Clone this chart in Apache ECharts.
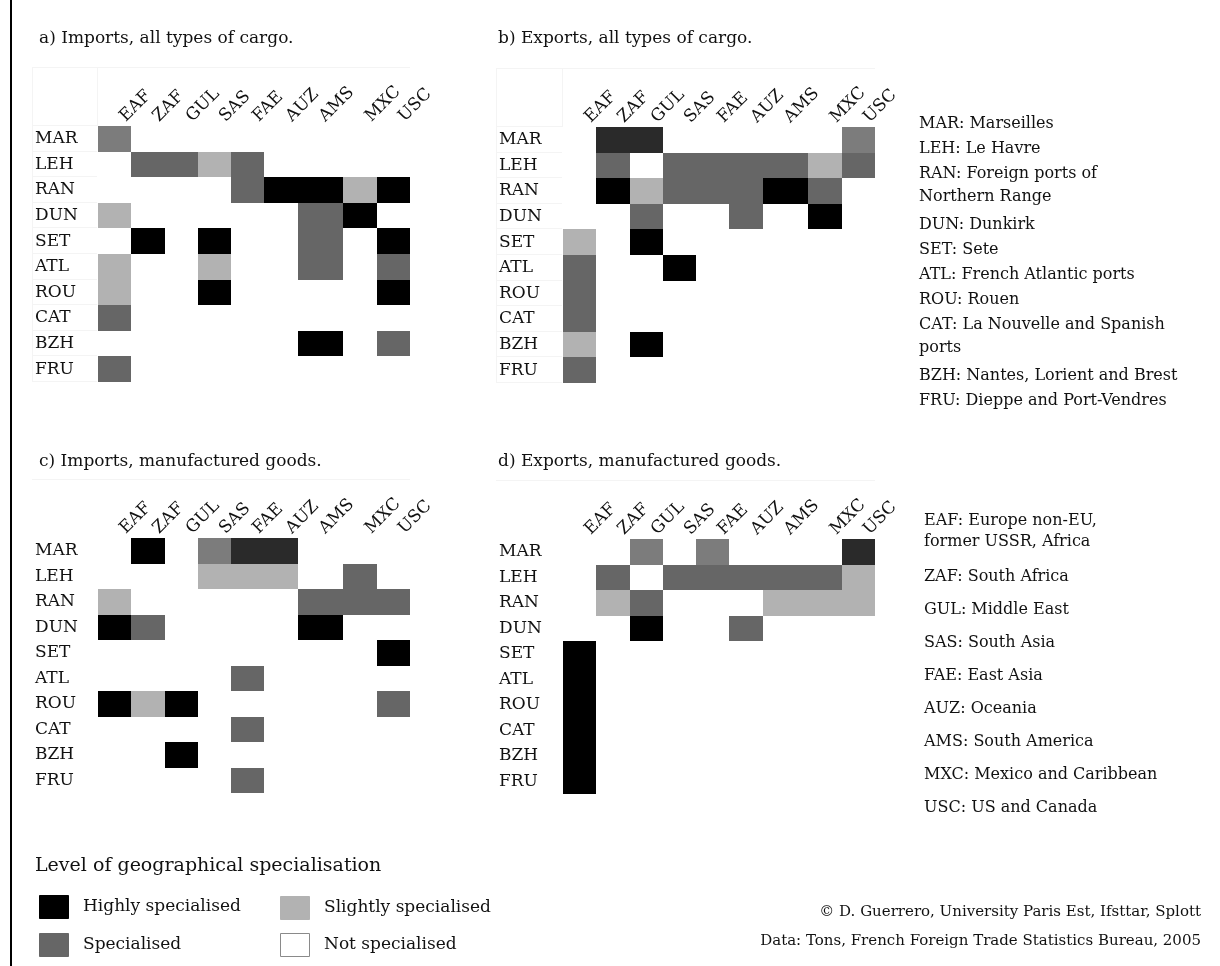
<!DOCTYPE html>
<html>
<head>
<meta charset="utf-8">
<script src="https://cdn.jsdelivr.net/npm/echarts@6/dist/echarts.min.js"></script>
<style>
html, body { margin: 0; padding: 0; background: #ffffff; }
#chart { width: 1220px; height: 966px; }
</style>
</head>
<body>
<div id="chart"></div>
<script>
// ---------------- data ----------------
const regions = ['EAF', 'ZAF', 'GUL', 'SAS', 'FAE', 'AUZ', 'AMS', 'MXC', 'USC'];
const ports = ['MAR', 'LEH', 'RAN', 'DUN', 'SET', 'ATL', 'ROU', 'CAT', 'BZH', 'FRU'];

// level codes: 0 not specialised, 1 slightly, 2 specialised, 3 highly,
// 4 specialised (lighter print), 5 highly (lighter print)
const importsAll = [
  [4, 0, 0, 0, 0, 0, 0, 0, 0],
  [0, 2, 2, 1, 2, 0, 0, 0, 0],
  [0, 0, 0, 0, 2, 3, 3, 1, 3],
  [1, 0, 0, 0, 0, 0, 2, 3, 0],
  [0, 3, 0, 3, 0, 0, 2, 0, 3],
  [1, 0, 0, 1, 0, 0, 2, 0, 2],
  [1, 0, 0, 3, 0, 0, 0, 0, 3],
  [2, 0, 0, 0, 0, 0, 0, 0, 0],
  [0, 0, 0, 0, 0, 0, 3, 0, 2],
  [2, 0, 0, 0, 0, 0, 0, 0, 0]
];
const exportsAll = [
  [0, 5, 5, 0, 0, 0, 0, 0, 4],
  [0, 2, 0, 2, 2, 2, 2, 1, 2],
  [0, 3, 1, 2, 2, 2, 3, 2, 0],
  [0, 0, 2, 0, 0, 2, 0, 3, 0],
  [1, 0, 3, 0, 0, 0, 0, 0, 0],
  [2, 0, 0, 3, 0, 0, 0, 0, 0],
  [2, 0, 0, 0, 0, 0, 0, 0, 0],
  [2, 0, 0, 0, 0, 0, 0, 0, 0],
  [1, 0, 3, 0, 0, 0, 0, 0, 0],
  [2, 0, 0, 0, 0, 0, 0, 0, 0]
];
const importsManuf = [
  [0, 3, 0, 4, 5, 5, 0, 0, 0],
  [0, 0, 0, 1, 1, 1, 0, 2, 0],
  [1, 0, 0, 0, 0, 0, 2, 2, 2],
  [3, 2, 0, 0, 0, 0, 3, 0, 0],
  [0, 0, 0, 0, 0, 0, 0, 0, 3],
  [0, 0, 0, 0, 2, 0, 0, 0, 0],
  [3, 1, 3, 0, 0, 0, 0, 0, 2],
  [0, 0, 0, 0, 2, 0, 0, 0, 0],
  [0, 0, 3, 0, 0, 0, 0, 0, 0],
  [0, 0, 0, 0, 2, 0, 0, 0, 0]
];
const exportsManuf = [
  [0, 0, 4, 0, 4, 0, 0, 0, 5],
  [0, 2, 0, 2, 2, 2, 2, 2, 1],
  [0, 1, 2, 0, 0, 0, 1, 1, 1],
  [0, 0, 3, 0, 0, 2, 0, 0, 0],
  [3, 0, 0, 0, 0, 0, 0, 0, 0],
  [3, 0, 0, 0, 0, 0, 0, 0, 0],
  [3, 0, 0, 0, 0, 0, 0, 0, 0],
  [3, 0, 0, 0, 0, 0, 0, 0, 0],
  [3, 0, 0, 0, 0, 0, 0, 0, 0],
  [3, 0, 0, 0, 0, 0, 0, 0, 0]
];

const panelTitles = [
  'a) Imports, all types of cargo.',
  'b) Exports, all types of cargo.',
  'c) Imports, manufactured goods.',
  'd) Exports, manufactured goods.'
];
const portNames = [
  'Marseilles', 'Le Havre', 'Foreign ports of\nNorthern Range', 'Dunkirk', 'Sete',
  'French Atlantic ports', 'Rouen', 'La Nouvelle and Spanish\nports',
  'Nantes, Lorient and Brest', 'Dieppe and Port-Vendres'
];
const regionNames = [
  'Europe non-EU,\nformer USSR, Africa', 'South Africa', 'Middle East', 'South Asia',
  'East Asia', 'Oceania', 'South America', 'Mexico and Caribbean', 'US and Canada'
];
const levelNames = ['Not specialised', 'Slightly specialised', 'Specialised', 'Highly specialised'];
const legendTitle = 'Level of geographical specialisation';
const creditLines = [
  '\u00A9 D. Guerrero, University Paris Est, Ifsttar, Splott',
  'Data: Tons, French Foreign Trade Statistics Bureau, 2005'
];

// ---------------- styles / layout ----------------
const FONT = '"DejaVu Serif", serif';
const TXT = '#111111';
const FAINT = '#f4f4f4';
const levelColor = { 1: '#b2b2b2', 2: '#666666', 3: '#000000', 4: '#7c7c7c', 5: '#2a2a2a' };
const colW = [1, 1, 1, 1, 1, 1, 1.38, 1, 1];
const colStart = [];
colW.reduce((acc, w, i) => { colStart[i] = acc; return acc + w; }, 0);
const totalW = colW.reduce((a, b) => a + b, 0);
const labelOffset = 0.74;
const labelPos = colStart.map(s => +(s + labelOffset).toFixed(4));

const panels = [
  { values: importsAll,   grid: { left: 98,  top: 126, width: 312, height: 256 }, labelX: 35,  title: [39, 30],  rowLines: true },
  { values: exportsAll,   grid: { left: 563, top: 127, width: 312, height: 256 }, labelX: 499, title: [498, 30], rowLines: true },
  { values: importsManuf, grid: { left: 98,  top: 538, width: 312, height: 255 }, labelX: 35,  title: [39, 453], rowLines: false },
  { values: exportsManuf, grid: { left: 563, top: 539, width: 312, height: 255 }, labelX: 499, title: [498, 453], rowLines: false }
];

function cellsOf(values) {
  const out = [];
  values.forEach((row, r) => row.forEach((lv, c) => { if (lv > 0) out.push([c, r, lv]); }));
  return out;
}

function renderCell(params, api) {
  const c = api.value(0), r = api.value(1), lv = api.value(2);
  const p0 = api.coord([colStart[c], r]);
  const p1 = api.coord([colStart[c] + colW[c], r]);
  const h = api.size([0, 1])[1];
  const x0 = Math.round(p0[0]), x1 = Math.round(p1[0]);
  const y0 = Math.round(p0[1] - h / 2), y1 = Math.round(p0[1] + h / 2);
  return {
    type: 'rect',
    shape: { x: x0, y: y0, width: x1 - x0, height: y1 - y0 },
    style: { fill: levelColor[lv] }
  };
}

const grids = [], xAxes = [], yAxes = [], series = [], titles = [];
panels.forEach((p, i) => {
  grids.push(Object.assign({ containLabel: false }, p.grid));
  xAxes.push({
    gridIndex: i, type: 'value', position: 'top', min: 0, max: totalW,
    axisLine: { show: false }, axisTick: { show: false }, splitLine: { show: false },
    axisLabel: {
      customValues: labelPos, rotate: -45, margin: 7,
      fontSize: 17, fontFamily: FONT, color: TXT,
      formatter: v => { const k = labelPos.findIndex(q => Math.abs(q - v) < 1e-3); return k >= 0 ? regions[k] : ''; }
    }
  });
  yAxes.push({
    gridIndex: i, type: 'category', data: ports, inverse: true,
    axisLine: { show: false }, axisTick: { show: false }, splitLine: { show: false },
    axisLabel: {
      align: 'left', margin: p.grid.left - p.labelX, fontSize: 17, fontFamily: FONT,
      color: TXT, padding: [7, 0, 0, 0]
    }
  });
  series.push({
    type: 'custom', xAxisIndex: i, yAxisIndex: i,
    data: cellsOf(p.values), renderItem: renderCell,
    encode: { x: 0, y: 1 }, silent: true, animation: false
  });
  titles.push({
    text: panelTitles[i], left: p.title[0], top: p.title[1], padding: 0,
    textStyle: { fontSize: 17, fontWeight: 'normal', fontFamily: FONT, color: TXT }
  });
});

// ---------------- graphic: text legends, frame ----------------
const graphics = [];
function textEl(text, x, y, size, align) {
  return {
    type: 'text', x: x, y: y, silent: true,
    style: { text: text, fontSize: size, fontFamily: FONT, fill: TXT, align: align || 'left', verticalAlign: 'middle' }
  };
}
function hLine(x1, x2, y, color) {
  return { type: 'line', silent: true, z: -1, shape: { x1: x1, y1: y + 0.5, x2: x2, y2: y + 0.5 }, style: { stroke: color, lineWidth: 1 } };
}
function vLine(x, y1, y2, color) {
  return { type: 'line', silent: true, z: -1, shape: { x1: x + 0.5, y1: y1, x2: x + 0.5, y2: y2 }, style: { stroke: color, lineWidth: 1 } };
}
function legendBlock(keys, names, x, y0, step, wrapLine, wrapGap) {
  let y = y0;
  keys.forEach((k, i) => {
    const lines = (k + ': ' + names[i]).split('\n');
    lines.forEach((ln, j) => {
      graphics.push(textEl(ln, x, y, 16));
      if (j < lines.length - 1) y += wrapLine;
    });
    y += lines.length > 1 ? wrapGap : step;
  });
}
legendBlock(ports, portNames, 919, 124, 25, 23, 28);
legendBlock(regions, regionNames, 924, 521, 33, 21, 35);

// frame line
graphics.push({ type: 'line', silent: true, shape: { x1: 11, y1: 0, x2: 11, y2: 966 }, style: { stroke: '#000', lineWidth: 2 } });

// faint spreadsheet gridlines around each table
panels.forEach(p => {
  const g = p.grid;
  const lineTop = g.top - 59;
  graphics.push(hLine(p.labelX - 3, g.left + g.width, lineTop, FAINT));
  if (p.rowLines) {
    graphics.push(vLine(g.left - 1, lineTop, g.top, FAINT));
    graphics.push(vLine(p.labelX - 3, lineTop, g.top + g.height, FAINT));
    const rh = g.height / ports.length;
    for (let k = 0; k <= ports.length; k++) {
      graphics.push(hLine(p.labelX - 3, g.left - 1, Math.round(g.top + k * rh) - 1, FAINT));
    }
  }
});

// level legend
graphics.push(textEl(legendTitle, 35, 866, 19));
const swatchPos = { 3: [39, 895], 2: [39, 933], 1: [280, 896], 0: [280, 933] };
[3, 2, 1, 0].forEach(lv => {
  const [sx, sy] = swatchPos[lv];
  graphics.push({
    type: 'rect', silent: true,
    shape: { x: sx + 0.5, y: sy + 0.5, width: 29, height: 23 },
    style: { fill: lv === 0 ? '#ffffff' : levelColor[lv], stroke: lv === 0 ? '#8a8a8a' : levelColor[lv], lineWidth: 1 }
  });
  graphics.push(textEl(levelNames[lv], sx + 44, sy + 12, 17));
});

// credits
graphics.push(textEl(creditLines[0], 1201, 912, 15, 'right'));
graphics.push(textEl(creditLines[1], 1201, 941, 15, 'right'));

const chart = echarts.init(document.getElementById('chart'), null, { renderer: 'canvas' });
chart.setOption({
  backgroundColor: '#ffffff',
  animation: false,
  textStyle: { fontFamily: FONT },
  title: titles,
  grid: grids,
  xAxis: xAxes,
  yAxis: yAxes,
  series: series,
  graphic: graphics
});
</script>
</body>
</html>
